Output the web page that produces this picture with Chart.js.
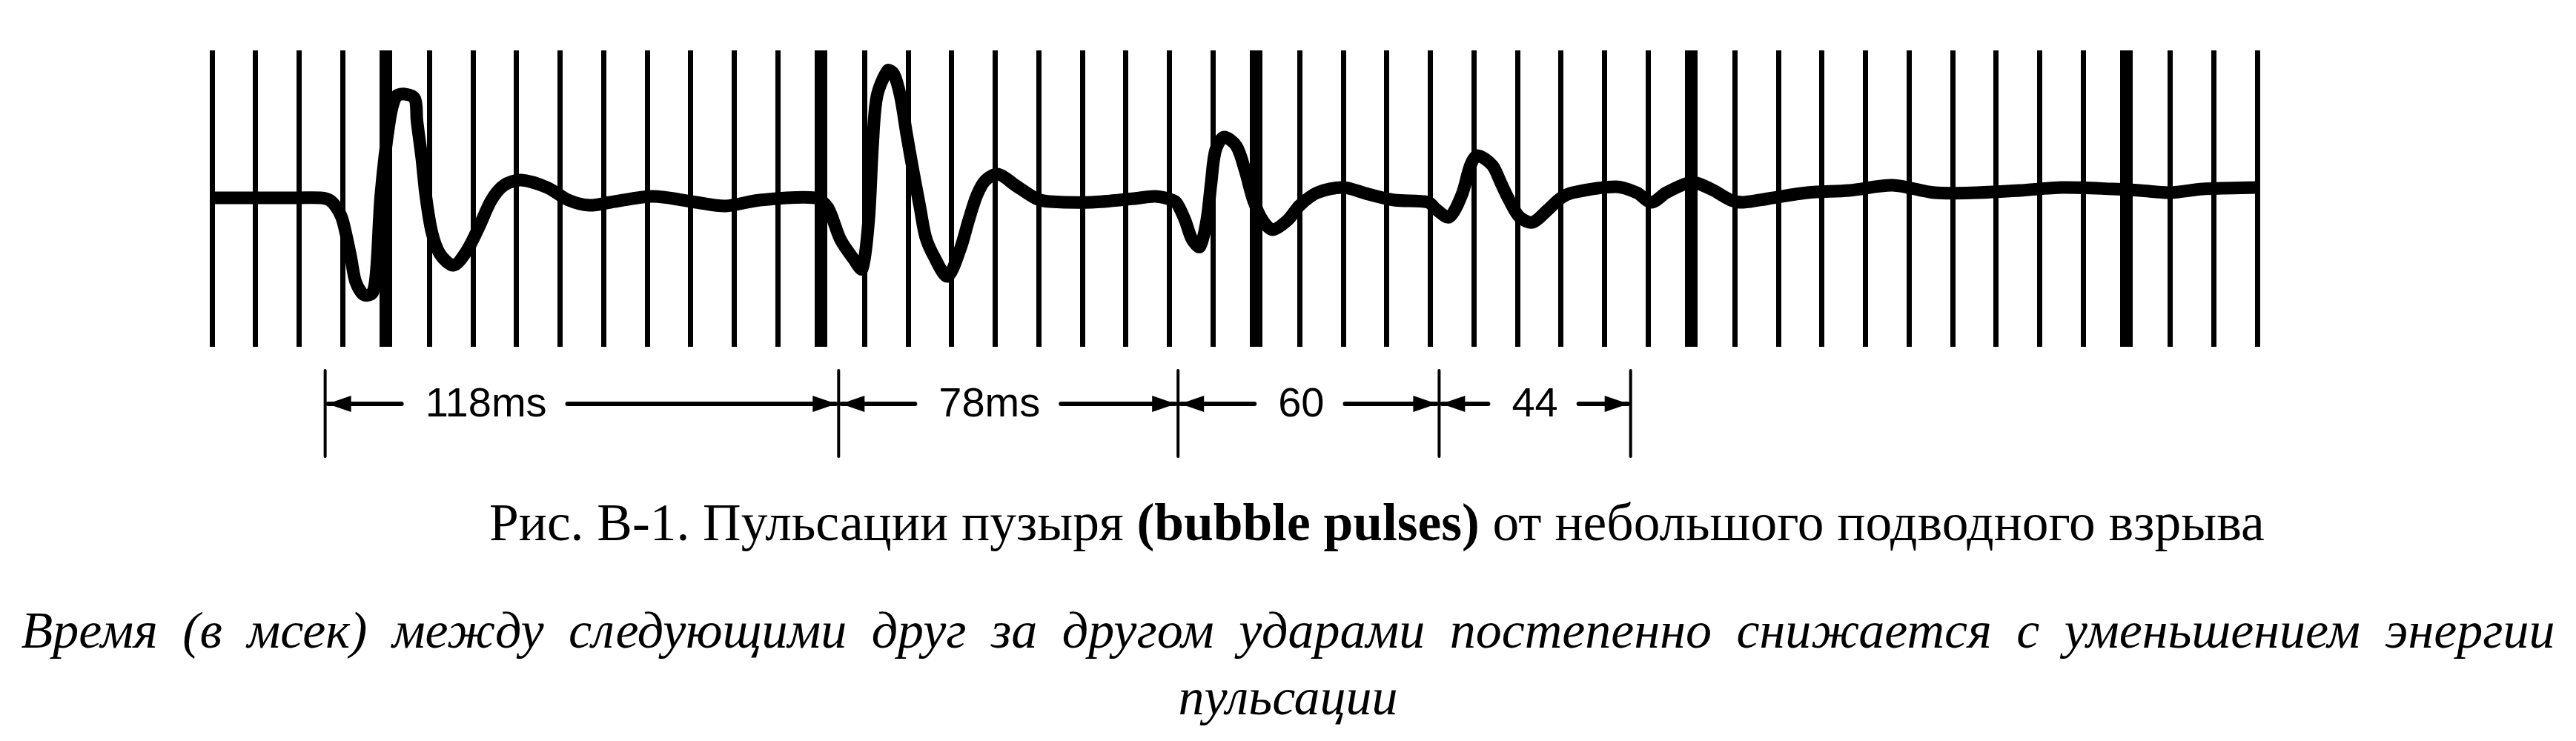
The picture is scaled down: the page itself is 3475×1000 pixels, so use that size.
<!DOCTYPE html>
<html>
<head>
<meta charset="utf-8">
<script src="https://cdn.jsdelivr.net/npm/chart.js@4.4.1/dist/chart.umd.min.js"></script>
<style>
  html, body { margin:0; padding:0; background:#fff; width:3475px; height:1000px; overflow:hidden; }
  #wrap { position:absolute; left:0; top:0; width:3475px; height:640px; }
  .cap { position:absolute; white-space:nowrap; color:#000; font-family:"Liberation Serif","Times New Roman",serif; }
  #cap1 { left:660px; top:669px; font-size:71.4px; line-height:72px; }
  #cap1 b { font-weight:bold; }
  #cap2 { left:0; width:3475px; text-align:center; top:806px; font-size:70px; line-height:90px; font-style:italic; word-spacing:16px; }
</style>
</head>
<body>
<div id="wrap"><canvas id="c" width="3475" height="640"></canvas></div>
<div class="cap" id="cap1">Рис. В-1. Пульсации пузыря <b>(bubble pulses)</b> от небольшого подводного взрыва</div>
<div class="cap" id="cap2">Время (в мсек) между следующими друг за другом ударами постепенно снижается с уменьшением энергии<br>пульсации</div>
<script>
// ---- data (time in ms, amplitude in arbitrary units) ----
const timeMs = [-40,-30,-20,-15,-13,-11.4,-10,-8.1,-7,-5.1,-3.1,-2.2,-1.2,0.8,2.3,4.3,6.6,7.1,8.2,9.1,10.5,12.4,15.5,18.4,21.3,24.2,27.1,31,37,41.9,46.7,51.6,61.3,71.2,78,85.9,
  98.6,101.5,104.4,107.5,109.4,110.9,111.8,112.8,115.3,116.7,118.2,119.6,121.1,122.7,124,126,129,131.9,133.9,135.8,137.8,140.7,144.6,149.4,152.5,162.2,171.9,176.8,180.7,
  181.8,183.6,185.2,187,188.6,189.6,190.6,192.5,195.4,197.4,199.3,201.4,203.7,207.2,210,214,219.9,225.7,231.7,239.5,
  241.4,244.3,247.2,249.2,250.8,254.2,256.2,258.1,260.5,263.5,267,269.8,272.7,282.6,287.4,290.8,294.2,299.1,301.2,305.1,309,311.9,317.7,
  326.6,336.3,346.2,355.9,365.6,375.5,385.2,396.8,403,410,417.5,430];
const amplitude = [1,1,1,1,-2,-12,-29,-79,-112,-130,-127,-95,5,105,138,141,135,105,55,5,-45,-75,-90,-72,-39,-2,18,25,15,-2,-9,-5,3,-5,-10,-2,
  1,-12,-55,-82,-95,-29,71,138,173,168,138,88,38,-12,-52,-79,-105,-69,-29,5,25,33,18,0,-4,-5,0,3,-2,
  -7,-29,-55,-65,-29,21,65,83,71,38,-2,-29,-42,-29,-9,8,15,6,-2,-5,
  -15,-25,5,45,58,45,21,-2,-25,-32,-15,0,8,16,8,-5,8,21,21,11,-2,-5,0,
  8,11,18,8,8,11,15,13,11,8,13,15];
const pulseTimes = [-14, 104, 182, 242, 286];
const intervalLabels = ["118ms", "78ms", "60", "44"];
const xMin = -40, xMax = 430, gridStep = 10, majorStep = 100;

const dimPlugin = {
  id: 'dims',
  afterDraw(chart) {
    const ctx = chart.ctx, xs = chart.scales.x;
    const yLine = 545, yTop = 500, yBot = 616;
    const px = pulseTimes.map(t => xs.getPixelForValue(t));
    ctx.save();
    ctx.strokeStyle = '#000';
    ctx.fillStyle = '#000';
    ctx.lineCap = 'round';
    ctx.lineWidth = 4;
    px.forEach(x => { ctx.beginPath(); ctx.moveTo(x, yTop); ctx.lineTo(x, yBot); ctx.stroke(); });
    ctx.font = '56px "Liberation Sans", Arial, sans-serif';
    ctx.textBaseline = 'middle';
    const head = (tipX, dir) => {
      ctx.beginPath();
      ctx.moveTo(tipX, yLine);
      ctx.lineTo(tipX + dir * 32, yLine - 11);
      ctx.lineTo(tipX + dir * 32, yLine + 11);
      ctx.closePath();
      ctx.fill();
    };
    for (let i = 0; i < intervalLabels.length; i++) {
      const a = px[i], b = px[i + 1], label = intervalLabels[i];
      const w = ctx.measureText(label).width;
      const lx = a + Math.min(135, (b - a - w) / 2);
      ctx.lineWidth = 6;
      ctx.beginPath(); ctx.moveTo(a + 4, yLine); ctx.lineTo(lx - 32, yLine); ctx.stroke();
      ctx.beginPath(); ctx.moveTo(lx + w + 28, yLine); ctx.lineTo(b - 4, yLine); ctx.stroke();
      head(a + 3, 1);
      head(b - 3, -1);
      ctx.fillText(label, lx, yLine + 2);
    }
    ctx.restore();
  }
};

new Chart(document.getElementById('c'), {
  type: 'line',
  data: {
    datasets: [{
      data: timeMs.map((t, i) => ({ x: t, y: amplitude[i] })),
      borderColor: '#000',
      borderWidth: 17,
      pointRadius: 0,
      tension: 0.3,
      borderJoinStyle: 'round',
      borderCapStyle: 'round',
      fill: false
    }]
  },
  options: {
    responsive: false,
    devicePixelRatio: 1,
    animation: false,
    layout: { padding: { left: 286, right: 430, top: 68, bottom: 172 } },
    plugins: { legend: { display: false }, tooltip: { enabled: false }, title: { display: false } },
    scales: {
      x: {
        type: 'linear', min: xMin, max: xMax,
        ticks: { display: false, stepSize: gridStep },
        border: { display: false },
        grid: {
          drawTicks: false,
          color: '#000',
          lineWidth: c => (Math.round(c.tick.value) % majorStep === 0 ? 17 : 7)
        }
      },
      y: { display: false, min: -200, max: 200 }
    }
  },
  plugins: [dimPlugin]
});
</script>
</body>
</html>
